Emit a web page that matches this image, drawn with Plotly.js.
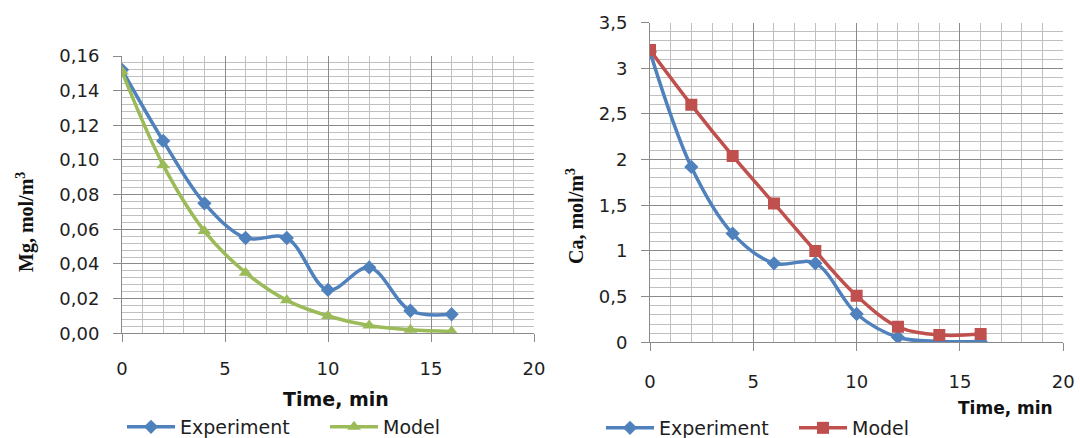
<!DOCTYPE html>
<html><head><meta charset="utf-8">
<script src="https://cdn.plot.ly/plotly-3.0.1.min.js"></script>
<style>html,body{margin:0;padding:0;background:#fff}#chart{width:1080px;height:438px}</style>
</head><body><div id="chart"></div>
<script>
// ---- data ----
const time = [0, 2, 4, 6, 8, 10, 12, 14, 16];
const mgExperiment = [0.152, 0.111, 0.075, 0.055, 0.055, 0.025, 0.038, 0.013, 0.011];
const mgModel = [0.151, 0.097, 0.059, 0.035, 0.019, 0.010, 0.0045, 0.002, 0.001];
const caExperiment = [3.18, 1.92, 1.19, 0.865, 0.865, 0.31, 0.055, 0.01, 0.01];
const caModel = [3.20, 2.60, 2.04, 1.52, 1.00, 0.51, 0.17, 0.08, 0.09];
const seriesNames = ['Experiment', 'Model'];
const xTitle = 'Time, min';
const mgTitle = 'Mg, mol/m<sup>3</sup>';
const caTitle = 'Ca, mol/m<sup>3</sup>';

// ---- layout helpers ----
const W = 1080, H = 438;
const fx = p => p / W;
const fy = p => 1 - p / H;
const blue = '#4F81BD', green = '#9BBB59', red = '#C0504D';
const majorGrid = '#8a8a8a', minorGrid = '#c0c0c0';
const tickFont = {family: 'DejaVu Sans', size: 18, color: '#1e1e1e'};

function xAxis(dom, anchor, standoff) {
  return {
    domain: dom, anchor: anchor, range: [0, 20], tick0: 0, dtick: 5,
    showgrid: true, gridcolor: majorGrid, gridwidth: 1,
    minor: {dtick: 1, showgrid: true, gridcolor: minorGrid, gridwidth: 1},
    showline: true, linecolor: majorGrid, linewidth: 1,
    ticks: 'outside', ticklen: 8, tickcolor: majorGrid,
    ticklabelstandoff: standoff, tickfont: tickFont, zeroline: false, fixedrange: true
  };
}
function yAxis(dom, anchor, range, dtick, minorDtick, fmt) {
  return {
    domain: dom, anchor: anchor, range: range, tick0: 0, dtick: dtick,
    tickformat: fmt,
    showgrid: true, gridcolor: majorGrid, gridwidth: 1,
    minor: {dtick: minorDtick, showgrid: true, gridcolor: minorGrid, gridwidth: 1},
    showline: true, linecolor: majorGrid, linewidth: 1,
    ticks: 'outside', ticklen: 8, tickcolor: majorGrid,
    ticklabelstandoff: 10, tickfont: tickFont, zeroline: false, fixedrange: true
  };
}

const traces = [
  {x: time, y: mgExperiment, name: seriesNames[0], xaxis: 'x', yaxis: 'y', legend: 'legend',
   mode: 'lines+markers', line: {color: blue, width: 3.5, shape: 'spline', smoothing: 1},
   marker: {symbol: 'diamond', size: 11, color: blue}},
  {x: time, y: mgModel, name: seriesNames[1], xaxis: 'x', yaxis: 'y', legend: 'legend',
   mode: 'lines+markers', line: {color: green, width: 3.5, shape: 'spline', smoothing: 1},
   marker: {symbol: 'triangle-up', size: 12, color: green}},
  {x: time, y: caExperiment, name: seriesNames[0], xaxis: 'x2', yaxis: 'y2', legend: 'legend2',
   mode: 'lines+markers', line: {color: blue, width: 3.5, shape: 'spline', smoothing: 1},
   marker: {symbol: 'diamond', size: 11, color: blue}},
  {x: time, y: caModel, name: seriesNames[1], xaxis: 'x2', yaxis: 'y2', legend: 'legend2',
   mode: 'lines+markers', line: {color: red, width: 3.5, shape: 'spline', smoothing: 1},
   marker: {symbol: 'square', size: 12, color: red}}
];

const legendFont = {family: 'DejaVu Sans', size: 19, color: '#1e1e1e'};
const layout = {
  width: W, height: H, margin: {l: 0, r: 0, t: 0, b: 0, autoexpand: false},
  paper_bgcolor: '#fff', plot_bgcolor: '#fff',
  separators: ', ',
  showlegend: true,
  xaxis: xAxis([fx(122), fx(534)], 'y', 11),
  yaxis: yAxis([fy(333.3), fy(56)], 'x', [0, 0.16], 0.02, 0.004, '.2f'),
  xaxis2: xAxis([fx(650), fx(1063.3)], 'y2', 15),
  yaxis2: yAxis([fy(342.3), fy(22.6)], 'x2', [0, 3.5], 0.5, 0.1, ''),
  legend: {orientation: 'h', x: fx(122), xanchor: 'left', y: fy(427), yanchor: 'middle',
           font: legendFont, bgcolor: 'rgba(0,0,0,0)', entrywidth: 140, itemwidth: 48},
  legend2: {orientation: 'h', x: fx(601), xanchor: 'left', y: fy(428), yanchor: 'middle',
            font: legendFont, bgcolor: 'rgba(0,0,0,0)', entrywidth: 130, itemwidth: 48},
  annotations: [
    {text: '<b>' + mgTitle + '</b>', xref: 'paper', yref: 'paper', x: fx(25), y: fy(222),
     textangle: -90, showarrow: false, xanchor: 'center', yanchor: 'middle',
     font: {family: 'Liberation Serif', size: 20, color: '#111'}},
    {text: '<b>' + caTitle + '</b>', xref: 'paper', yref: 'paper', x: fx(575), y: fy(216),
     textangle: -90, showarrow: false, xanchor: 'center', yanchor: 'middle',
     font: {family: 'Liberation Serif', size: 20, color: '#111'}},
    {text: '<b>' + xTitle + '</b>', xref: 'paper', yref: 'paper', x: fx(336), y: fy(399),
     showarrow: false, xanchor: 'center', yanchor: 'middle',
     font: {family: 'DejaVu Sans', size: 19, color: '#111'}},
    {text: '<b>' + xTitle + '</b>', xref: 'paper', yref: 'paper', x: fx(1005), y: fy(408),
     showarrow: false, xanchor: 'center', yanchor: 'middle',
     font: {family: 'DejaVu Sans', size: 17, color: '#111'}}
  ]
};

Plotly.newPlot('chart', traces, layout, {staticPlot: true, displayModeBar: false});
</script>
</body></html>
